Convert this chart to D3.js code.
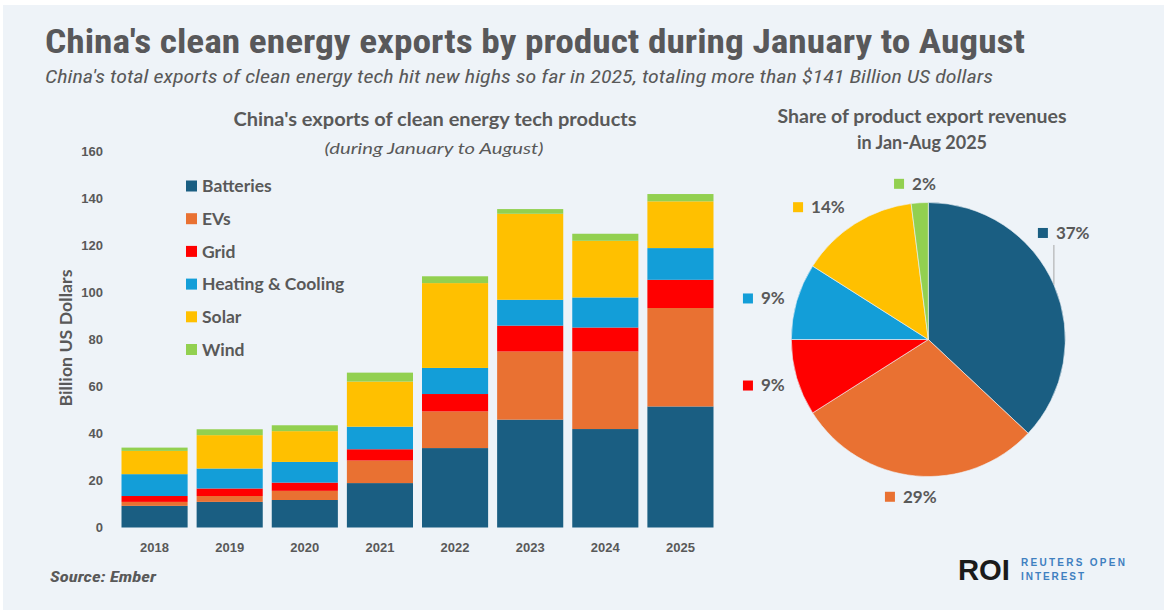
<!DOCTYPE html>
<html><head><meta charset="utf-8">
<script src="https://cdn.jsdelivr.net/npm/d3@7"></script>
<style>body{margin:0;background:#fff}svg{display:block}</style>
</head><body><svg id="c" width="1164" height="610"></svg>
<script>
// ---------- data ----------
const years = ["2018","2019","2020","2021","2022","2023","2024","2025"];
const batteries = [9.2, 10.9, 11.7, 18.9, 33.8, 45.9, 41.9, 51.5];
const evs       = [1.7, 2.5, 3.9, 9.6, 15.6, 29.0, 33.0, 41.9];
const grid      = [2.5, 3.2, 3.5, 4.8, 7.4, 11.0, 10.2, 12.0];
const heating   = [9.3, 8.5, 8.8, 9.6, 11.1, 11.0, 12.8, 13.5];
const solar     = [9.9, 14.2, 13.1, 19.2, 36.1, 36.6, 24.1, 19.9];
const wind      = [1.4, 2.5, 2.5, 3.8, 2.9, 2.0, 3.0, 3.1];
const seriesNames = ["Batteries","EVs","Grid","Heating & Cooling","Solar","Wind"];
const seriesColors = ["#1a5e82","#e97132","#ff0000","#139ed8","#ffc000","#92d050"];
const yTicks = [0,20,40,60,80,100,120,140,160];
const pieShares = [37,29,9,9,14,2];
const pieLabels = ["37%","29%","9%","9%","14%","2%"];

// ---------- setup ----------
const svg = d3.select("#c");
const TXT = "#595959";
const BODY = "Lato, 'Open Sans', 'Liberation Sans', sans-serif";
const COND = "'Liberation Sans Narrow', 'Roboto Condensed', 'DejaVu Sans Condensed', Roboto, sans-serif";
svg.append("rect").attr("width",1164).attr("height",610).attr("fill","#fff");
svg.append("rect").attr("x",3).attr("y",5).attr("width",1161).attr("height",605).attr("fill","#eef3f8");

// titles
svg.append("text").attr("x",45).attr("y",53)
  .attr("font-family",COND).attr("font-weight","bold").attr("font-size",33)
  .attr("fill","#58585a").attr("textLength",980).attr("lengthAdjust","spacingAndGlyphs")
  .text("China's clean energy exports by product during January to August");
svg.append("text").attr("x",45).attr("y",82.5)
  .attr("font-family",COND).attr("font-style","italic").attr("font-size",17.5)
  .attr("fill",TXT).attr("textLength",948).attr("lengthAdjust","spacingAndGlyphs")
  .text("China's total exports of clean energy tech hit new highs so far in 2025, totaling more than $141 Billion US dollars");

// ---------- bar chart ----------
const x = d3.scaleBand().domain(years).range([117,718]).paddingInner(0.12).paddingOuter(0.06);
const y = d3.scaleLinear().domain([0,160]).range([527.5,151.5]);
const series = [batteries, evs, grid, heating, solar, wind];
const table = years.map((yr,i)=>{ const o={year:yr}; seriesNames.forEach((n,k)=>o[n]=series[k][i]); return o; });
const stacked = d3.stack().keys(seriesNames)(table);
const color = d3.scaleOrdinal().domain(seriesNames).range(seriesColors);

svg.append("text").attr("x",435).attr("y",126).attr("text-anchor","middle")
  .attr("font-family",BODY).attr("font-weight","bold").attr("font-size",18).attr("fill",TXT)
  .attr("textLength",403).attr("lengthAdjust","spacingAndGlyphs")
  .text("China's exports of clean energy tech products");
svg.append("text").attr("x",434).attr("y",154).attr("text-anchor","middle")
  .attr("font-family",BODY).attr("font-style","italic").attr("font-size",16).attr("fill",TXT)
  .attr("textLength",219).attr("lengthAdjust","spacingAndGlyphs")
  .text("(during January to August)");

svg.append("g").selectAll("g").data(stacked).join("g")
  .attr("fill",d=>color(d.key))
  .selectAll("rect").data(d=>d).join("rect")
  .attr("x",d=>x(d.data.year)).attr("width",x.bandwidth())
  .attr("y",d=>y(d[1])).attr("height",d=>y(d[0])-y(d[1]));

const yAxis = svg.append("g").attr("transform","translate(107,0)")
  .call(d3.axisLeft(y).tickValues(yTicks).tickSize(0).tickPadding(4));
yAxis.select(".domain").remove();
yAxis.selectAll("text").attr("font-family","'Liberation Sans', Arial, sans-serif")
  .attr("font-weight","bold").attr("font-size",13).attr("fill",TXT);

const xAxis = svg.append("g").attr("transform","translate(0,527.5)")
  .call(d3.axisBottom(x).tickSize(0).tickPadding(15));
xAxis.select(".domain").remove();
xAxis.selectAll("text").attr("font-family","'Liberation Sans', Arial, sans-serif")
  .attr("font-weight","bold").attr("font-size",13).attr("fill",TXT);

svg.append("text").attr("transform","translate(72,338) rotate(-90)").attr("text-anchor","middle")
  .attr("font-family",BODY).attr("font-weight","bold").attr("font-size",17).attr("fill",TXT)
  .attr("textLength",137).attr("lengthAdjust","spacingAndGlyphs")
  .text("Billion US Dollars");

// legend
const leg = svg.append("g").selectAll("g").data(seriesNames).join("g")
  .attr("transform",(d,i)=>`translate(186,${186 + i*32.7})`);
leg.append("rect").attr("x",0).attr("y",-5.5).attr("width",11).attr("height",11).attr("fill",d=>color(d));
leg.append("text").attr("x",16).attr("y",0).attr("dy","0.35em")
  .attr("font-family",BODY).attr("font-weight","bold").attr("font-size",17.5).attr("fill",TXT)
  .text(d=>d);

// ---------- pie ----------
const cx = 928.3, cy = 339.5, R = 137;
svg.append("text").attr("x",922).attr("y",122.5).attr("text-anchor","middle")
  .attr("font-family",BODY).attr("font-weight","bold").attr("font-size",18).attr("fill",TXT)
  .attr("textLength",289).attr("lengthAdjust","spacingAndGlyphs")
  .text("Share of product export revenues");
svg.append("text").attr("x",922).attr("y",148.5).attr("text-anchor","middle")
  .attr("font-family",BODY).attr("font-weight","bold").attr("font-size",18).attr("fill",TXT)
  .text("in Jan-Aug 2025");

const pie = d3.pie().sort(null).value(d=>d)(pieShares);
const arc = d3.arc().innerRadius(0).outerRadius(R);
const pg = svg.append("g").attr("transform",`translate(${cx},${cy})`);
pg.selectAll("path").data(pie).join("path")
  .attr("d",arc).attr("fill",(d,i)=>seriesColors[i])
  .attr("stroke","#eef3f8").attr("stroke-width",0.6);

// labels: placed on a ring around the pie, with small per-label nudges (layout only)
const labelArc = d3.arc().innerRadius(165).outerRadius(165);
const nudges = {"Batteries":[-16,-41],"EVs":[-2,-7],"Grid":[-6,0],"Heating & Cooling":[-6,5],"Solar":[-21,7],"Wind":[-3,9]};
pie.forEach((d,i)=>{
  const [px,py] = labelArc.centroid(d);
  const nd = nudges[seriesNames[i]];
  const gx = cx + px + nd[0], gy = cy + py + nd[1];
  const g = svg.append("g");
  const t = g.append("text").attr("y",gy).attr("dy","0.35em")
    .attr("font-family",BODY).attr("font-weight","bold").attr("font-size",17).attr("fill",TXT)
    .text(pieLabels[i]);
  const tw = t.node().getComputedTextLength();
  const total = 10 + 8 + tw;
  const left = gx - total/2;
  g.append("rect").attr("x",left).attr("y",gy-5).attr("width",10).attr("height",10).attr("fill",seriesColors[i]);
  t.attr("x",left+18);
  if (i===0) {
    const lx = left + 16;
    const edgeY = cy - Math.sqrt(R*R - (lx-cx)*(lx-cx));
    svg.append("line").attr("x1",lx).attr("x2",lx).attr("y1",gy+12).attr("y2",edgeY)
      .attr("stroke","#a6a6a6").attr("stroke-width",1);
  }
});

// ---------- footer ----------
svg.append("text").attr("x",50).attr("y",582)
  .attr("font-family",COND).attr("font-style","italic").attr("font-weight","bold").attr("font-size",14)
  .attr("fill",TXT).attr("textLength",106).attr("lengthAdjust","spacingAndGlyphs")
  .text("Source: Ember");

svg.append("text").attr("x",958).attr("y",580)
  .attr("font-family","'Liberation Sans', Arial, sans-serif").attr("font-weight","bold").attr("font-size",30)
  .attr("fill","#1a1a1a").attr("textLength",52).attr("lengthAdjust","spacingAndGlyphs")
  .text("ROI");
svg.append("text").attr("x",1021).attr("y",566)
  .attr("font-family","'Liberation Sans', Arial, sans-serif").attr("font-weight","bold").attr("font-size",10)
  .attr("fill","#3f80c0").attr("textLength",104).attr("lengthAdjust","spacing")
  .text("REUTERS OPEN");
svg.append("text").attr("x",1021).attr("y",579.5)
  .attr("font-family","'Liberation Sans', Arial, sans-serif").attr("font-weight","bold").attr("font-size",10)
  .attr("fill","#3f80c0").attr("textLength",63).attr("lengthAdjust","spacing")
  .text("INTEREST");
</script></body></html>
